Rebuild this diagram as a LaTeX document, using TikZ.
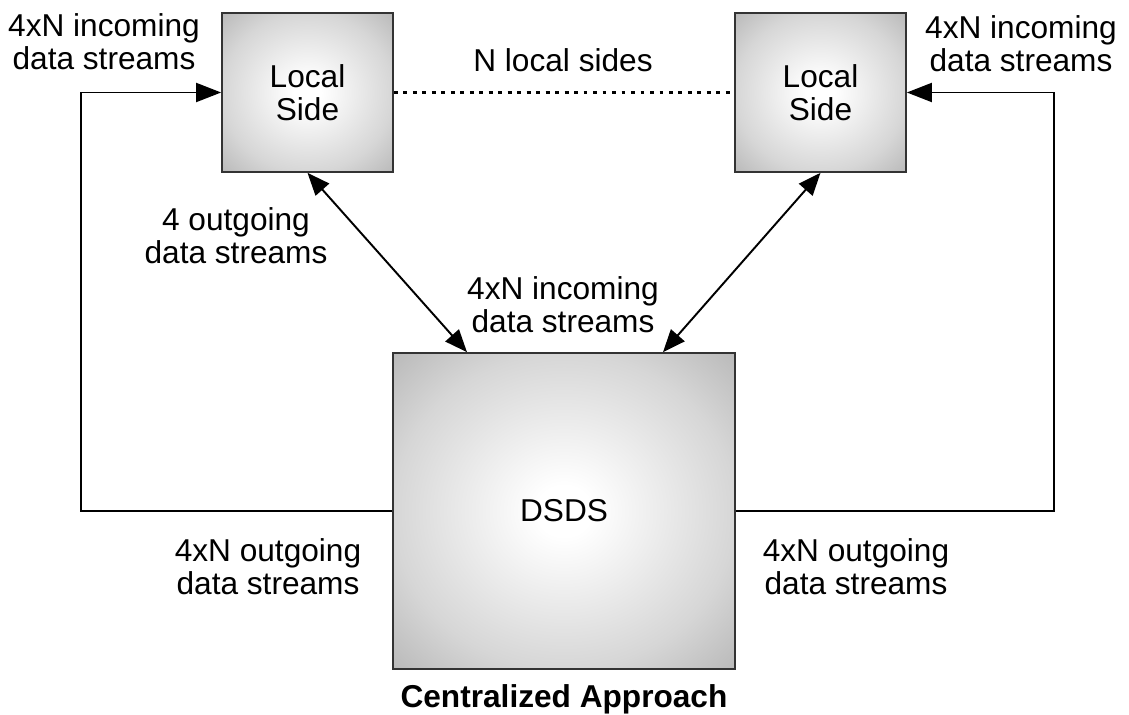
\documentclass[tikz,border=0pt]{standalone}
\usepackage{fontspec}
\setmainfont{Liberation Sans}
\usepackage{tikz}
\usetikzlibrary{shapes,arrows.meta,positioning,calc}

\pgfdeclareradialshading{boxglow}{\pgfpoint{0bp}{0bp}}{color(0bp)=(white); color(4bp)=(white); color(25bp)=(black!16); color(36bp)=(black!28); color(50bp)=(black!28)}

\begin{document}
\begin{tikzpicture}[
    x=0.02cm, y=-0.02cm,
    localbox/.style={rectangle, draw=black!80, line width=1pt, shade, shading=boxglow, align=center, minimum width=3.42cm, minimum height=3.18cm, font=\fontsize{18}{19}\selectfont},
    centerbox/.style={localbox, minimum width=6.84cm, minimum height=6.32cm},
    lbl/.style={align=center, font=\fontsize{18}{19}\selectfont},
    flow/.style={-{Triangle[length=0.5cm, width=0.38cm]}, line width=1.1pt},
    link/.style={{Triangle[length=0.45cm, width=0.36cm]}-{Triangle[length=0.45cm, width=0.36cm]}, line width=1.1pt}
]
    \useasboundingbox (0,0) rectangle (1129,715);

    \node [localbox] (left) at (307.5,92.5) {Local\\Side};
    \node [localbox] (right) at (820.5,92.5) {Local\\Side};
    \node [centerbox] (dsds) at (564,511) {DSDS};

    \node [lbl] (inL) at (104,42) {4xN incoming\\data streams};
    \node [lbl] (inR) at (1021,44) {4xN incoming\\data streams};
    \node [lbl] (sides) at (563,60) {N local sides};
    \node [lbl] (out4) at (236,236) {4 outgoing\\data streams};
    \node [lbl] (inMid) at (563,305) {4xN incoming\\data streams};
    \node [lbl] (outL) at (268,567) {4xN outgoing\\data streams};
    \node [lbl] (outR) at (856,567) {4xN outgoing\\data streams};
    \node [lbl, font=\fontsize{18}{19}\selectfont\bfseries, below=0.17cm of dsds] (caption) {Centralized Approach};

    \draw [line width=1.3pt, dash pattern=on 2.2pt off 3.2pt] (left.east) -- (right.west);
    \draw [flow] (dsds.west) -- ++(-311,0) |- (left.west);
    \draw [flow] (dsds.east) -- ++(318,0) |- (right.east);
    \draw [link] (left.south) -- ($(dsds.north)+(-97,0)$);
    \draw [link] (right.south) -- ($(dsds.north)+(99,0)$);
\end{tikzpicture}
\end{document}
